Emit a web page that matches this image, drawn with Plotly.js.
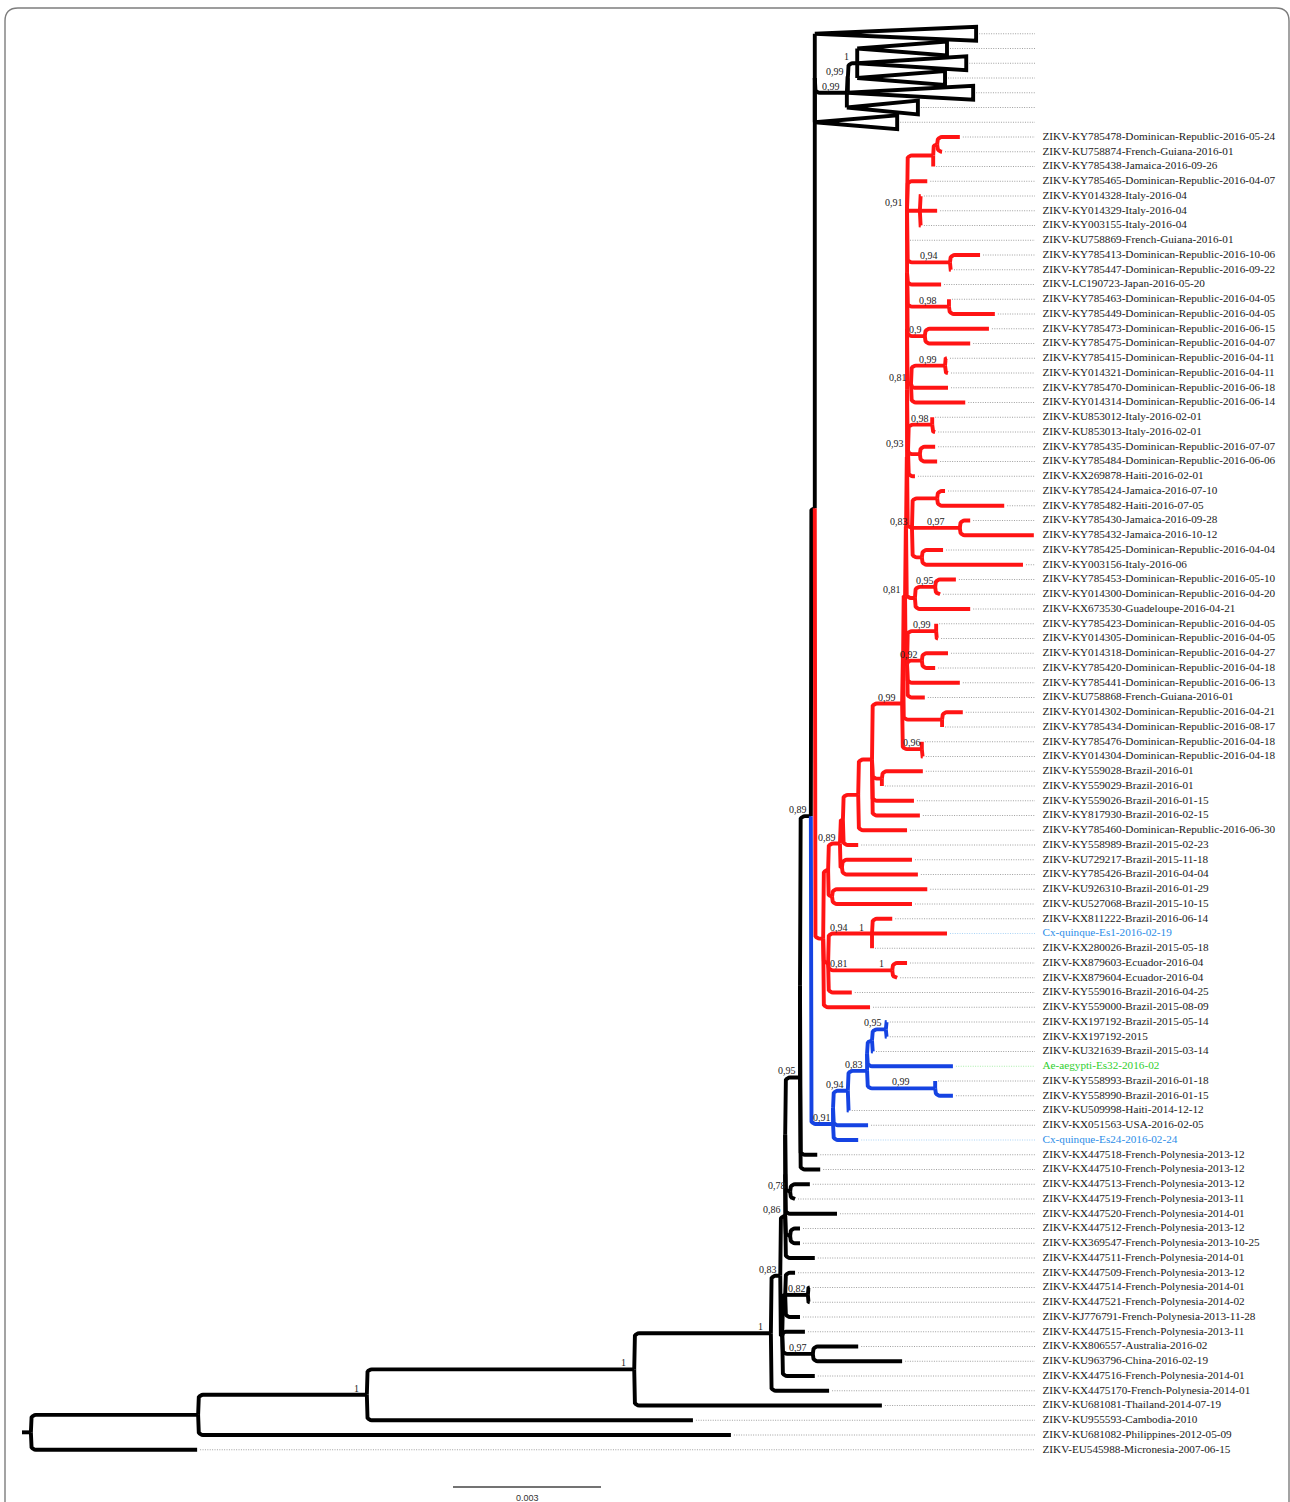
<!DOCTYPE html>
<html><head><meta charset="utf-8">
<script src="https://cdn.plot.ly/plotly-3.0.1.min.js"></script>
<style>html,body{margin:0;padding:0;background:#fff}#chart{width:1290px;height:1502px}</style>
</head><body><div id="chart"></div>
<script>
// ---------- DATA ----------
// Tip labels, top to bottom (rows 7..96). Rows 0..6 are collapsed clades (T0..T6).
const tipLabels = [
"ZIKV-KY785478-Dominican-Republic-2016-05-24","ZIKV-KU758874-French-Guiana-2016-01","ZIKV-KY785438-Jamaica-2016-09-26",
"ZIKV-KY785465-Dominican-Republic-2016-04-07","ZIKV-KY014328-Italy-2016-04","ZIKV-KY014329-Italy-2016-04",
"ZIKV-KY003155-Italy-2016-04","ZIKV-KU758869-French-Guiana-2016-01","ZIKV-KY785413-Dominican-Republic-2016-10-06",
"ZIKV-KY785447-Dominican-Republic-2016-09-22","ZIKV-LC190723-Japan-2016-05-20","ZIKV-KY785463-Dominican-Republic-2016-04-05",
"ZIKV-KY785449-Dominican-Republic-2016-04-05","ZIKV-KY785473-Dominican-Republic-2016-06-15","ZIKV-KY785475-Dominican-Republic-2016-04-07",
"ZIKV-KY785415-Dominican-Republic-2016-04-11","ZIKV-KY014321-Dominican-Republic-2016-04-11","ZIKV-KY785470-Dominican-Republic-2016-06-18",
"ZIKV-KY014314-Dominican-Republic-2016-06-14","ZIKV-KU853012-Italy-2016-02-01","ZIKV-KU853013-Italy-2016-02-01",
"ZIKV-KY785435-Dominican-Republic-2016-07-07","ZIKV-KY785484-Dominican-Republic-2016-06-06","ZIKV-KX269878-Haiti-2016-02-01",
"ZIKV-KY785424-Jamaica-2016-07-10","ZIKV-KY785482-Haiti-2016-07-05","ZIKV-KY785430-Jamaica-2016-09-28",
"ZIKV-KY785432-Jamaica-2016-10-12","ZIKV-KY785425-Dominican-Republic-2016-04-04","ZIKV-KY003156-Italy-2016-06",
"ZIKV-KY785453-Dominican-Republic-2016-05-10","ZIKV-KY014300-Dominican-Republic-2016-04-20","ZIKV-KX673530-Guadeloupe-2016-04-21",
"ZIKV-KY785423-Dominican-Republic-2016-04-05","ZIKV-KY014305-Dominican-Republic-2016-04-05","ZIKV-KY014318-Dominican-Republic-2016-04-27",
"ZIKV-KY785420-Dominican-Republic-2016-04-18","ZIKV-KY785441-Dominican-Republic-2016-06-13","ZIKV-KU758868-French-Guiana-2016-01",
"ZIKV-KY014302-Dominican-Republic-2016-04-21","ZIKV-KY785434-Dominican-Republic-2016-08-17","ZIKV-KY785476-Dominican-Republic-2016-04-18",
"ZIKV-KY014304-Dominican-Republic-2016-04-18","ZIKV-KY559028-Brazil-2016-01","ZIKV-KY559029-Brazil-2016-01",
"ZIKV-KY559026-Brazil-2016-01-15","ZIKV-KY817930-Brazil-2016-02-15","ZIKV-KY785460-Dominican-Republic-2016-06-30",
"ZIKV-KY558989-Brazil-2015-02-23","ZIKV-KU729217-Brazil-2015-11-18","ZIKV-KY785426-Brazil-2016-04-04",
"ZIKV-KU926310-Brazil-2016-01-29","ZIKV-KU527068-Brazil-2015-10-15","ZIKV-KX811222-Brazil-2016-06-14",
"Cx-quinque-Es1-2016-02-19","ZIKV-KX280026-Brazil-2015-05-18","ZIKV-KX879603-Ecuador-2016-04",
"ZIKV-KX879604-Ecuador-2016-04","ZIKV-KY559016-Brazil-2016-04-25","ZIKV-KY559000-Brazil-2015-08-09",
"ZIKV-KX197192-Brazil-2015-05-14","ZIKV-KX197192-2015","ZIKV-KU321639-Brazil-2015-03-14",
"Ae-aegypti-Es32-2016-02","ZIKV-KY558993-Brazil-2016-01-18","ZIKV-KY558990-Brazil-2016-01-15",
"ZIKV-KU509998-Haiti-2014-12-12","ZIKV-KX051563-USA-2016-02-05","Cx-quinque-Es24-2016-02-24",
"ZIKV-KX447518-French-Polynesia-2013-12","ZIKV-KX447510-French-Polynesia-2013-12","ZIKV-KX447513-French-Polynesia-2013-12",
"ZIKV-KX447519-French-Polynesia-2013-11","ZIKV-KX447520-French-Polynesia-2014-01","ZIKV-KX447512-French-Polynesia-2013-12",
"ZIKV-KX369547-French-Polynesia-2013-10-25","ZIKV-KX447511-French-Polynesia-2014-01","ZIKV-KX447509-French-Polynesia-2013-12",
"ZIKV-KX447514-French-Polynesia-2014-01","ZIKV-KX447521-French-Polynesia-2014-02","ZIKV-KJ776791-French-Polynesia-2013-11-28",
"ZIKV-KX447515-French-Polynesia-2013-11","ZIKV-KX806557-Australia-2016-02","ZIKV-KU963796-China-2016-02-19",
"ZIKV-KX447516-French-Polynesia-2014-01","ZIKV-KX4475170-French-Polynesia-2014-01","ZIKV-KU681081-Thailand-2014-07-19",
"ZIKV-KU955593-Cambodia-2010","ZIKV-KU681082-Philippines-2012-05-09","ZIKV-EU545988-Micronesia-2007-06-15"];

// Tip depths from root stub (units of 0.001 substitutions/site), same order as tipLabels
const tipDepth = [
19.01,18.65,18.47,18.35,18.22,18.55,18.22,17.94,19.42,18.83,
18.63,18.79,19.72,19.60,19.22,18.75,18.77,18.77,19.12,18.45,
18.51,18.51,18.55,18.10,18.71,19.91,19.22,20.51,18.67,20.29,
18.93,18.61,19.22,18.53,18.57,18.77,18.51,19.01,18.30,19.07,
18.65,18.24,18.26,18.26,17.43,18.08,18.20,17.94,16.95,18.04,
18.16,18.35,18.04,17.64,18.75,17.23,17.94,17.74,16.82,17.19,
17.53,17.53,17.25,18.87,18.51,18.87,16.76,17.15,16.95,16.12,
16.18,15.97,15.67,16.52,15.77,15.77,16.07,15.67,15.97,15.97,
15.77,15.87,16.95,17.84,16.07,16.36,17.43,13.60,14.37,3.55];

// Collapsed clades (top 7 rows): maximum depth of each triangle
const collapsedDepth = [19.34, 18.75, 19.14, 18.71, 19.28, 18.16, 17.74];

// Internal nodes
const nodeName  = ["Rt","A","B","C","D","E","F","Fa","Fb","N95","N95a","N89","Top","TC","NC","NB","NA",
  "Rr","S0","S1","X2","X1","V","W","X3","P1","Q0","Q1","Q2",
  "U","Ua","Ub","Uc","Ud","Ue","Uf","Ug","A91","J1","J2","K","N94","N98","N9","A81","N99","A93","N98b","N22",
  "Ab","N25","N97","N29","N81","N95r","Y","Y1","Y2","U2","U3",
  "B91","B91a","B94","B83","B83a","B95p","B95","B99","I","J","E2","G","G2","H"];
const nodeDepth = [0.18,3.57,6.99,12.41,15.18,15.37,15.47,15.47,15.47,15.77,15.77,15.99,16.07,16.07,16.72,16.74,16.93,
  16.24,16.34,16.58,16.64,16.95,17.23,17.43,16.62,16.42,16.34,17.23,17.64,
  17.84,17.86,17.90,17.92,17.94,17.94,17.94,17.94,17.94,18.47,18.55,18.20,18.81,18.79,18.30,18.02,18.71,17.96,18.45,18.20,
  18.04,18.55,19.01,18.24,18.10,18.51,17.94,18.53,18.24,18.65,18.24,
  16.44,16.44,16.74,17.13,17.13,17.23,17.51,18.51,15.57,15.57,15.41,15.47,15.93,16.03];
const nodeKids = ["A L90","B L89","C L88","D L87","E L86","F E2","Fa J L77","Fb L74","N95 I","N95a L71","N89 L70","Top B91","TC Rr",
  "T0 NC T6","NB T5","NA T4","T1 T2 T3",
  "S0 Q0 L60","S1 P1","X2 X3","X1 L49","V L48","U W L46 L47","L44 L45","L50 L51","L52 L53","Q1 Q2 L59","L54 L55 L56","L57 L58",
  "Ua U3","Ub U2","Uc Y","Ud N81","Ue Ab","Uf A93","Ug A81","A91 L11 N98 N9","J1 L4 K L8 N94","J2 L3","L1 L2","L5 L6 L7",
  "L9 L10","L12 L13","L14 L15","N99 L18 L19","L16 L17","N98b N22 L24","L20 L21","L22 L23",
  "N25 N97 N29","L25 L26","L27 L28","L29 L30","N95r L33","L31 L32","Y1 Y2 L38 L39","L34 L35","L36 L37","L40 L41","L42 L43",
  "B91a L69","B94 L68","B83 L67","B83a B99","B95p L64","B95 L63","L61 L62","L65 L66","L72 L73","L75 L76",
  "G L82 H L85","L78 G2 L81","L79 L80","L83 L84"];
const nodeSupport = ["","","1","1","1","0,83","0,86","","","0,95","","0,89","","","0,99","0,99","1",
  "","","0,89","","","","","","","","1","1",
  "0,99","","0,81","","","","","","0,91","","","","0,94","0,98","0,9","0,81","0,99","0,93","0,98","",
  "0,83","","0,97","","","0,95","","0,99","0,92","","0,96",
  "0,91","","0,94","0,83","","","0,95","0,99","0,78","","","","0,82","0,97"];
// second support values shown on the same branch (near the parent)
const extraSupportNode = ["Q1","Q2"];
const extraSupportText = ["0,94","0,81"];

// clade colouring
const cladeRoots  = ["Rr","B91"];
const cladeColors = ["#ff1414","#1543e2"];
const specialTips = [55, 64, 69];
const specialTipColors = ["#2b8de8","#2fcf2f","#2b8de8"];
const specialLeaderColors = ["#a9d3f6","#a8eda8","#a9d3f6"];
const scaleLength = 3; // 0.003 subs/site

// ---------- LAYOUT CONSTANTS ----------
const W = 1290, H = 1502;
const PXX = 148 / 3;          // px per 0.001 subs/site
const X0PX = 22;              // px of depth 0
const ROWPX = 14.75, ROW0PX = 33.75;
const LEADER_END = (1035 - X0PX) / PXX;
const LABEL_X = (1042.5 - X0PX) / PXX;
const SB_X0 = (453 - X0PX) / PXX, SB_ROW = (1487 - ROW0PX) / ROWPX, SB_TXT_ROW = (1498 - ROW0PX) / ROWPX;
const TRI_H = 0.47;
const CORNER = 5;
const LW = 3.9;
const SERIF = "Liberation Serif, Times New Roman, serif";

// ---------- BUILD TREE ----------
const nodes = {};
tipLabels.forEach((lab, i) => { nodes['L' + (i + 1)] = {name: 'L' + (i + 1), leaf: true, row: i + 7, depth: tipDepth[i], label: lab, idx: i + 1}; });
collapsedDepth.forEach((d, i) => { nodes['T' + i] = {name: 'T' + i, leaf: true, tri: true, row: i, tip: d}; });
nodeName.forEach((n, i) => { nodes[n] = {name: n, depth: nodeDepth[i], kidNames: nodeKids[i].split(' '), support: nodeSupport[i]}; });
nodeName.forEach(n => { const nd = nodes[n]; nd.kids = nd.kidNames.map(k => nodes[k]); nd.kids.forEach(k => k.parent = nd); });
const root = nodes['Rt'];
function layY(n) { if (n.leaf) { n.y = n.row; return n.y; } n.kids.forEach(layY); n.y = (n.kids[0].y + n.kids[n.kids.length - 1].y) / 2; return n.y; }
layY(root);
function paint(n, col) { const ci = cladeRoots.indexOf(n.name); if (ci >= 0) col = cladeColors[ci]; n.col = col; if (n.kids) n.kids.forEach(k => paint(k, col)); }
paint(root, '#000000');
Object.values(nodes).forEach(n => { if (n.tri) n.depth = n.parent.depth; });

// ---------- BRANCHES ----------
function branchPts(px, py, cx, cy) {
  const dxp = (cx - px) * PXX, dyp = Math.abs(cy - py) * ROWPX;
  const pts = [];
  if (dyp < 0.01) { pts.push([px, cy], [cx, cy]); return pts; }
  const r = Math.min(CORNER, dxp, dyp);
  const s = cy > py ? 1 : -1;
  pts.push([px, py]);
  if (r <= 0.05) { pts.push([px, cy]); if (dxp > 0.05) pts.push([cx, cy]); return pts; }
  const rx = r / PXX, ry = r / ROWPX;
  for (let i = 0; i <= 6; i++) { const t = i / 6 * Math.PI / 2; pts.push([px + rx - rx * Math.cos(t), cy - s * ry + s * ry * Math.sin(t)]); }
  pts.push([cx, cy]);
  return pts;
}
const segs = {};
function addSeg(col, pts) { if (!segs[col]) segs[col] = {x: [], y: []}; pts.forEach(p => { segs[col].x.push(p[0]); segs[col].y.push(p[1]); }); segs[col].x.push(null); segs[col].y.push(null); }
Object.values(nodes).forEach(n => { if (!n.parent) return; addSeg(n.col, branchPts(n.parent.depth, n.parent.y, n.depth, n.y)); });
addSeg('#000000', [[0, root.y], [root.depth, root.y]]);

const traces = [];
// leader dotted lines
const lead = {x: [], y: []};
const specialLead = specialTips.map(() => ({x: [], y: []}));
Object.values(nodes).forEach(n => {
  if (!n.leaf) return;
  const start = (n.tri ? n.tip : n.depth) + 3 / PXX;
  if (start >= LEADER_END) return;
  const si = n.idx ? specialTips.indexOf(n.idx) : -1;
  const tgt = si >= 0 ? specialLead[si] : lead;
  tgt.x.push(start, LEADER_END, null); tgt.y.push(n.y, n.y, null);
});
traces.push({type: 'scatter', mode: 'lines', x: lead.x, y: lead.y, line: {color: '#a0a0a0', width: 1, dash: '1px,1.4px'}, hoverinfo: 'skip'});
specialLead.forEach((s, i) => traces.push({type: 'scatter', mode: 'lines', x: s.x, y: s.y, line: {color: specialLeaderColors[i], width: 1, dash: '1px,1.4px'}, hoverinfo: 'skip'}));

// collapsed triangles
const tri = {x: [], y: []};
Object.values(nodes).forEach(n => { if (!n.tri) return;
  tri.x.push(n.depth, n.tip, n.tip, n.depth, null); tri.y.push(n.y, n.y - TRI_H, n.y + TRI_H, n.y, null); });
traces.push({type: 'scatter', mode: 'lines', x: tri.x, y: tri.y, fill: 'toself', fillcolor: '#ffffff', line: {color: '#000', width: LW}, hoverinfo: 'skip'});

['#000000', cladeColors[1], cladeColors[0]].forEach(c => { if (segs[c]) traces.push({type: 'scatter', mode: 'lines', x: segs[c].x, y: segs[c].y, line: {color: c, width: LW}, hoverinfo: 'skip'}); });

// tip labels
const leaves = tipLabels.map((_, i) => nodes['L' + (i + 1)]);
traces.push({type: 'scatter', mode: 'text', x: leaves.map(() => LABEL_X), y: leaves.map(l => l.y), text: tipLabels,
  textposition: 'middle right', cliponaxis: false, hoverinfo: 'skip',
  textfont: {family: SERIF, size: 11.2, color: leaves.map(l => { const si = specialTips.indexOf(l.idx); return si >= 0 ? specialTipColors[si] : '#1a1a1a'; })}});

// scale bar
traces.push({type: 'scatter', mode: 'lines', x: [SB_X0, SB_X0 + scaleLength], y: [SB_ROW, SB_ROW], line: {color: '#444', width: 1.3}, hoverinfo: 'skip'});

// ---------- SUPPORT LABELS ----------
function textW(t) { let w = 0; for (const ch of t) w += (ch === ',' || ch === '.') ? 2.5 : 5; return w; }
const annotations = [];
function supportAnn(n, t, nearParent) {
  const w = textW(t), nodePx = n.depth * PXX, parPx = n.parent.depth * PXX;
  let cx;
  if (nearParent) cx = parPx + 2 + w / 2;
  else if (t === '1') cx = nodePx - 8 - w / 2;
  else { const len = nodePx - parPx, mid = (nodePx + parPx) / 2; cx = len < w + 2 ? Math.min(mid, nodePx - w / 2 - 4) : mid; }
  annotations.push({x: n.depth, y: n.y, xref: 'x', yref: 'y', text: t, showarrow: false, xanchor: 'center', yanchor: 'bottom',
    xshift: cx - nodePx, yshift: -1, font: {family: SERIF, size: 10, color: '#222'}});
}
nodeName.forEach(nm => { const n = nodes[nm]; if (n.support && n.parent) supportAnn(n, n.support, false); });
extraSupportNode.forEach((nm, i) => supportAnn(nodes[nm], extraSupportText[i], true));
annotations.push({x: SB_X0 + scaleLength / 2, y: SB_TXT_ROW, xref: 'x', yref: 'y', text: (scaleLength / 1000).toFixed(3), showarrow: false,
  xanchor: 'center', yanchor: 'middle', font: {family: 'Liberation Sans, Arial, sans-serif', size: 9, color: '#333'}});

// ---------- FRAME ----------
const PX = x => x / W, PY = y => 1 - y / H;
const framePath = `M ${PX(5)},${PY(1515)} L ${PX(5)},${PY(21)} Q ${PX(5)},${PY(8)} ${PX(18)},${PY(8)} L ${PX(1276)},${PY(8)} Q ${PX(1289)},${PY(8)} ${PX(1289)},${PY(21)} L ${PX(1289)},${PY(1515)}`;

const layout = {
  width: W, height: H, margin: {l: 0, r: 0, t: 0, b: 0, pad: 0},
  paper_bgcolor: '#fff', plot_bgcolor: '#fff', showlegend: false, hovermode: false,
  xaxis: {range: [-X0PX / PXX, (W - X0PX) / PXX], visible: false, fixedrange: true},
  yaxis: {range: [(H - ROW0PX) / ROWPX, -ROW0PX / ROWPX], visible: false, fixedrange: true},
  annotations: annotations,
  shapes: [{type: 'path', xref: 'paper', yref: 'paper', path: framePath, line: {color: '#7d7d7d', width: 1.4}}]
};
Plotly.newPlot('chart', traces, layout, {staticPlot: true, displayModeBar: false});
</script>
</body></html>
